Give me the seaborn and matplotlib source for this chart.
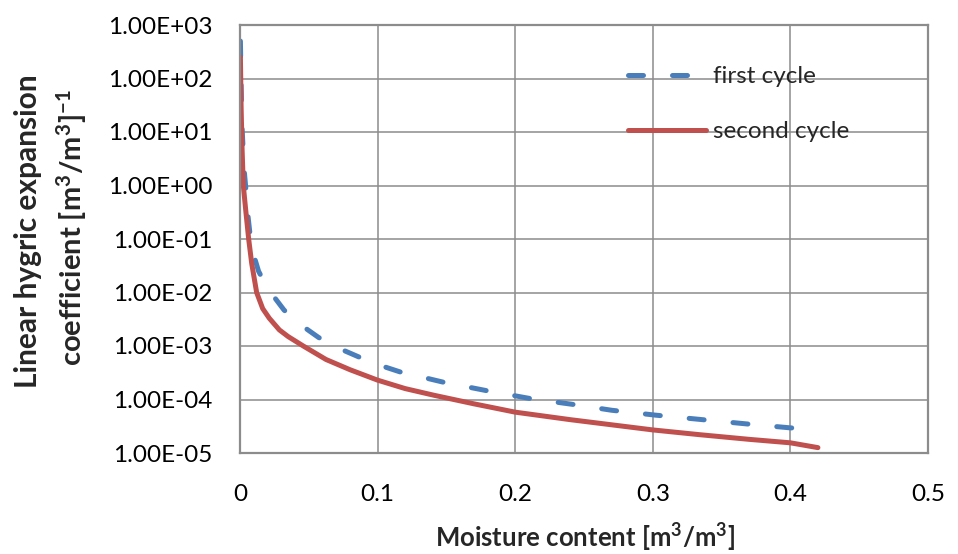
import numpy as np
import pandas as pd
import matplotlib
matplotlib.use("Agg")
import matplotlib.pyplot as plt
import seaborn as sns

# values
first_x = [0.0003, 0.0008, 0.0015, 0.003, 0.0042, 0.0056, 0.0075, 0.0105, 0.0135, 0.02,
           0.032, 0.044, 0.057, 0.07, 0.086, 0.1, 0.116, 0.148, 0.18, 0.212,
           0.245, 0.27, 0.302, 0.332, 0.368, 0.4, 0.405]
first_y = [500, 80, 12, 2, 0.9, 0.3, 0.11, 0.045, 0.025, 0.012,
           0.0047, 0.0025, 0.00145, 0.00095, 0.00063, 0.00045, 0.00033, 0.00021, 0.000145, 0.000103,
           0.000079, 0.000063, 0.000051, 0.000043, 0.000035, 0.0000295, 0.000029]

second_x = [0.0003, 0.0008, 0.0015, 0.0024, 0.0044, 0.0063, 0.0085, 0.0121, 0.0165, 0.0213,
            0.0286, 0.035, 0.046, 0.0625, 0.08, 0.1, 0.12, 0.141, 0.17, 0.2,
            0.24, 0.3, 0.334, 0.37, 0.4, 0.42]
second_y = [250, 30, 5, 1.0, 0.3, 0.1, 0.035, 0.01, 0.005, 0.0033,
            0.002, 0.0015, 0.001, 0.00056, 0.00036, 0.00023, 0.00016, 0.00012, 0.000083, 0.000058,
            0.000042, 0.000027, 0.000022, 0.000018, 0.0000155, 0.0000126]

series_names = ["first cycle", "second cycle"]
x_ticks = [0, 0.1, 0.2, 0.3, 0.4, 0.5]
x_tick_labels = ["0", "0.1", "0.2", "0.3", "0.4", "0.5"]
y_ticks = [1e3, 1e2, 1e1, 1e0, 1e-1, 1e-2, 1e-3, 1e-4, 1e-5]

df = pd.concat([
    pd.DataFrame({"x": first_x, "y": first_y, "cycle": series_names[0]}),
    pd.DataFrame({"x": second_x, "y": second_y, "cycle": series_names[1]}),
], ignore_index=True)

sns.set_style("white")
plt.rcParams['font.family'] = ['Lato', 'DejaVu Sans']
plt.rcParams['mathtext.fontset'] = 'custom'
plt.rcParams['mathtext.rm'] = 'Lato:bold'
plt.rcParams['mathtext.bf'] = 'Lato:bold'
plt.rcParams['mathtext.default'] = 'rm'

fig = plt.figure(figsize=(9.58, 5.54), dpi=100)
ax = fig.add_axes([240 / 958, 1 - 453 / 554, 688 / 958, 428 / 554])

grid_col = "#8c8c8c"
blue = "#4a7ebb"
red = "#c0504d"
lw = 3.6
dash = (3, 5.8)

sns.lineplot(data=df, x="x", y="y", hue="cycle", style="cycle",
             palette={series_names[0]: blue, series_names[1]: red},
             dashes={series_names[0]: dash, series_names[1]: ""},
             linewidth=lw, ax=ax, sort=False, legend=False)
for ln in ax.get_lines():
    ln.set_dash_capstyle("round")
    ln.set_solid_capstyle("round")
    ln.set_solid_joinstyle("round")

ax.set_yscale("log")
ax.set_xlim(0, 0.5)
ax.set_ylim(1e-5, 1e3)
ax.set_xticks(x_ticks)
ax.set_xticklabels(x_tick_labels)
ax.set_yticks(y_ticks)
ax.set_yticklabels(["%.2E" % v for v in y_ticks])
ax.yaxis.set_minor_locator(matplotlib.ticker.NullLocator())
ax.tick_params(length=0, labelsize=17.5, colors="#000000")
ax.tick_params(axis="y", pad=20)
ax.tick_params(axis="x", pad=22)
ax.grid(True, color=grid_col, linewidth=1.1)
for s in ax.spines.values():
    s.set_color(grid_col)
    s.set_linewidth(1.6)
ax.set_xlabel("")
ax.set_ylabel("")

# legend
handles = [plt.Line2D([], [], color=blue, lw=lw, dashes=dash, dash_capstyle="round"),
           plt.Line2D([], [], color=red, lw=lw, solid_capstyle="round")]
ax.legend(handles, series_names, loc="upper left", bbox_to_anchor=(628 / 958, 1 - 66 / 554),
          bbox_transform=fig.transFigure, frameon=False, fontsize=17.5, borderpad=0,
          borderaxespad=0, handlelength=3.2, handletextpad=0.3, labelspacing=1.4)

fig.text(585 / 958, 1 - 538 / 554, "Moisture content [m$^3$/m$^3$]",
         ha="center", va="center", fontsize=18.5, fontweight="bold")
fig.text(28 / 958, 1 - 231 / 554, "Linear hygric expansion",
         ha="center", va="center", rotation=90, fontsize=21.5, fontweight="bold")
fig.text(72 / 958, 1 - 228 / 554, "coefficient [m$^3$/m$^3$]$^{-1}$",
         ha="center", va="center", rotation=90, fontsize=21, fontweight="bold")

fig.savefig("out.png", dpi=100)
